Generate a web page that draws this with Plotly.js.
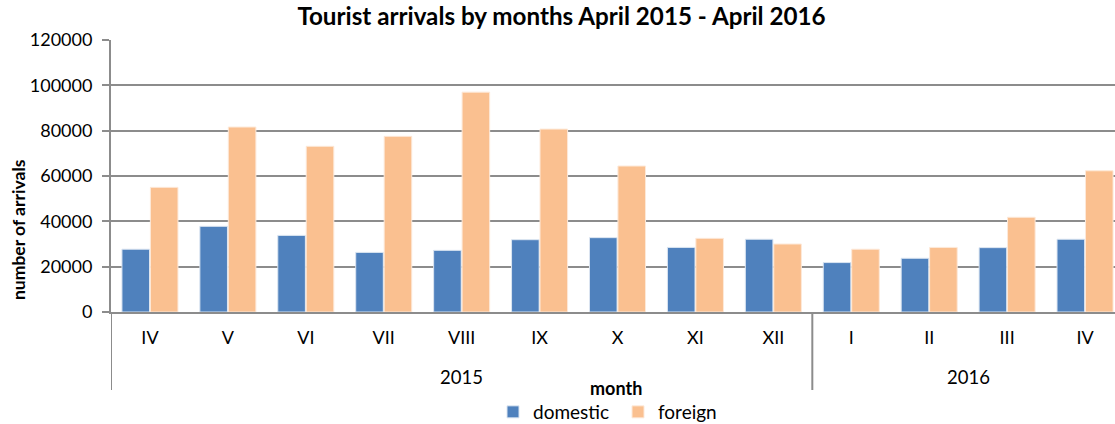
<!DOCTYPE html>
<html>
<head>
<meta charset="utf-8">
<script src="https://cdn.plot.ly/plotly-3.0.1.min.js"></script>
<style>
  html, body { margin: 0; padding: 0; overflow: hidden; background: #fff; width: 1115px; height: 424px; }
  #chart { width: 1130px; height: 424px; }
</style>
</head>
<body>
<div id="chart"></div>
<script>
const years = ["2015","2015","2015","2015","2015","2015","2015","2015","2015","2016","2016","2016","2016"];
const months = ["IV","V","VI","VII","VIII","IX","X","XI","XII","I","II","III","IV"];
const domestic = [27700, 37800, 33800, 26300, 27200, 31900, 32800, 28500, 32100, 21800, 23700, 28400, 32100];
const foreign = [55000, 81600, 73100, 77500, 97000, 80700, 64400, 32500, 30000, 27700, 28500, 41800, 62300];
const yTicks = [0, 20000, 40000, 60000, 80000, 100000, 120000];

const FONT = "Lato, 'Open Sans', sans-serif";
const GRID = "#8c8c8c";
const PLOT_TOP = 40, PLOT_BOTTOM = 312, PLOT_H = PLOT_BOTTOM - PLOT_TOP;
const L = 111, R = 6, W = 1130, PLOT_W = W - L - R;
const py = (pix) => (PLOT_BOTTOM - pix) / PLOT_H;   // pixel y -> paper y
const px = (pix) => (pix - L) / PLOT_W;             // pixel x -> paper x

const idx = months.map((m, i) => i);

// year groups derived from the years array
const groups = [];
years.forEach((y, i) => {
  const g = groups[groups.length - 1];
  if (g && g.year === y) g.end = i; else groups.push({ year: y, start: i, end: i });
});
const dividerX = [-0.5].concat(groups.map(g => g.end + 0.5));

const traces = [
  { type: "bar", name: "domestic", x: idx, y: domestic,
    marker: { color: "#4F81BD", line: { color: "#dbe5f1", width: 1 } } },
  { type: "bar", name: "foreign", x: idx, y: foreign,
    marker: { color: "#FAC090", line: { color: "#fde9d9", width: 1 } } }
];

const annotations = [
  { text: "<b>number of arrivals</b>", xref: "paper", yref: "paper",
    x: px(18), y: py(230), xanchor: "center", yanchor: "middle",
    textangle: -90, showarrow: false, font: { family: FONT, size: 17.5, color: "#000" } },
  { text: "<b>month</b>", xref: "paper", yref: "paper",
    x: px(616), y: py(388), xanchor: "center", yanchor: "middle",
    showarrow: false, font: { family: FONT, size: 18, color: "#000" } }
].concat(groups.map(g => ({
  text: g.year, xref: "x", yref: "paper", x: (g.start + g.end) / 2, y: py(377),
  xanchor: "center", yanchor: "middle", showarrow: false,
  font: { family: FONT, size: 18.5, color: "#000" }
})));

const shapes = dividerX.map(x => ({
  type: "line", xref: "x", yref: "paper", x0: x, x1: x, y0: 0, y1: py(390),
  line: { color: GRID, width: 2 }
}));

const layout = {
  width: W, height: 424,
  margin: { l: L, r: R, t: PLOT_TOP, b: 424 - PLOT_BOTTOM, autoexpand: false },
  paper_bgcolor: "#ffffff", plot_bgcolor: "#ffffff",
  font: { family: FONT, size: 18, color: "#000" },
  title: { text: "<b>Tourist arrivals by months April 2015 - April 2016</b>",
    font: { family: FONT, size: 24.2, color: "#000" },
    xref: "container", x: 561.5 / W, xanchor: "center",
    yref: "container", y: 1 - 17 / 424, yanchor: "middle" },
  barmode: "group", bargap: 0.27, bargroupgap: 0.03,
  showlegend: true,
  legend: { orientation: "h", x: px(618), xanchor: "center", y: py(412), yanchor: "middle",
    font: { family: FONT, size: 19, color: "#000" }, itemwidth: 30, entrywidth: 80,
    traceorder: "normal" },
  xaxis: { range: [-0.5, idx.length - 0.5], tickvals: idx, ticktext: months,
    showline: true, linecolor: GRID, linewidth: 2, ticks: "", showgrid: false,
    zeroline: false, automargin: false, ticklabelstandoff: 8,
    tickfont: { family: FONT, size: 18, color: "#000" } },
  yaxis: { range: [0, 120000], tickvals: yTicks, tickformat: "d", showline: true,
    linecolor: GRID, linewidth: 2, ticks: "outside", ticklen: 7, tickcolor: GRID, tickwidth: 2,
    gridcolor: GRID, gridwidth: 2, zeroline: false, ticklabelstandoff: 6, automargin: false,
    tickfont: { family: FONT, size: 18, color: "#000" } },
  annotations: annotations,
  shapes: shapes
};

Plotly.newPlot("chart", traces, layout, { displayModeBar: false, staticPlot: true });
</script>
</body>
</html>
